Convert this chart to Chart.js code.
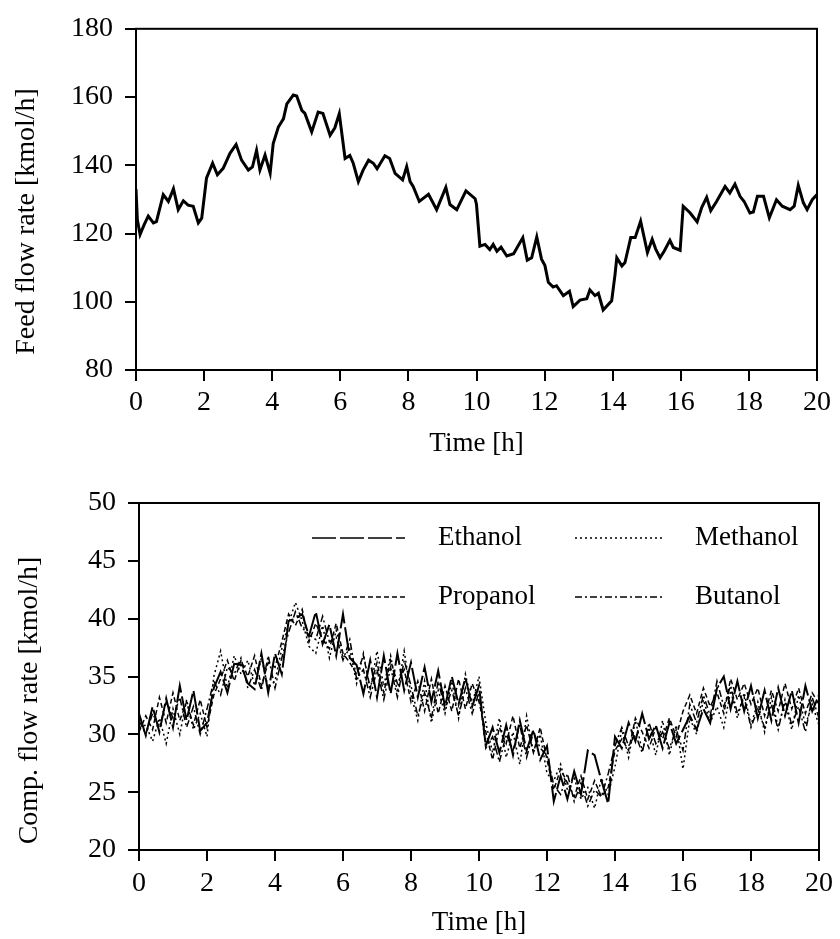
<!DOCTYPE html>
<html>
<head>
<meta charset="utf-8">
<title>Feed and component flow rates</title>
<script src="https://cdn.jsdelivr.net/npm/chart.js@4.4.1/dist/chart.umd.min.js"></script>
<style>
    html, body { margin: 0; padding: 0; background: #fff; }
    #wrap { position: relative; width: 840px; height: 939px; }
    canvas { position: absolute; left: 0; }
    #feedChart { top: 0; }
    #compChart { top: 470px; }
</style>
</head>
<body>
<div id="wrap">
    <canvas id="feedChart" width="840" height="470"></canvas>
    <canvas id="compChart" width="840" height="469"></canvas>
</div>
<script>
// --- DATA ---
// Feed flow rate [kmol/h] over time [h]
const feedTimes = [
    0, 0.04, 0.12, 0.24, 0.36, 0.51, 0.6, 0.8, 0.95, 1.1,
    1.24, 1.39, 1.53, 1.68, 1.83, 1.93, 2.07, 2.25, 2.39, 2.56,
    2.76, 2.94, 3.1, 3.3, 3.42, 3.54, 3.64, 3.79, 3.94, 4.03,
    4.18, 4.33, 4.43, 4.62, 4.72, 4.87, 4.96, 5.16, 5.35, 5.49,
    5.7, 5.84, 5.97, 6.14, 6.28, 6.38, 6.53, 6.67, 6.83, 6.97,
    7.08, 7.31, 7.45, 7.61, 7.83, 7.95, 8.05, 8.14, 8.32, 8.59,
    8.83, 9.1, 9.22, 9.42, 9.69, 9.96, 10.0, 10.1, 10.25, 10.39,
    10.49, 10.6, 10.72, 10.89, 11.09, 11.36, 11.49, 11.62, 11.77, 11.91,
    12.01, 12.11, 12.25, 12.35, 12.55, 12.73, 12.84, 13.04, 13.24, 13.33,
    13.48, 13.58, 13.72, 13.97, 14.07, 14.12, 14.27, 14.36, 14.53, 14.66,
    14.82, 15.02, 15.16, 15.26, 15.39, 15.51, 15.68, 15.78, 15.98, 16.07,
    16.27, 16.48, 16.61, 16.76, 16.88, 17.05, 17.3, 17.44, 17.59, 17.74,
    17.86, 18.03, 18.13, 18.25, 18.43, 18.6, 18.81, 18.98, 19.21, 19.33,
    19.45, 19.6, 19.71, 19.86, 20.0
];
const feedRate = [
    133, 124, 119.7, 122.6, 125.1, 123.1, 123.5, 131.4, 129.4, 133.1,
    127, 129.6, 128.3, 128, 123.1, 124.5, 136.2, 140.6, 137.2, 139.1,
    143.5, 146.1, 141.5, 138.6, 139.5, 144.4, 138.6, 143, 137.7, 146.4,
    151.2, 153.6, 158, 160.6, 160.3, 156.1, 155.2, 149.8, 155.6, 155.2,
    148.8, 151, 155.1, 142, 142.9, 140.6, 135.2, 138.6, 141.5, 140.6,
    139, 142.8, 142, 137.6, 135.7, 139.6, 135.2, 133.8, 129.4, 131.5,
    127, 133.5, 128.5, 127, 132.5, 130.2, 128.5, 116.3, 116.8, 115.3,
    116.8, 114.8, 116, 113.4, 114.1, 118.8, 112.2, 112.9, 119, 112.5,
    110.6, 105.7, 104.3, 104.7, 101.8, 103.1, 98.6, 100.5, 100.9, 103.5,
    101.8, 102.5, 97.6, 100.3, 108.1, 112.9, 110.5, 111.5, 118.8, 118.8,
    123.6, 114.4, 118.3, 115.5, 112.9, 114.8, 118, 115.9, 115.1, 128,
    126.1, 123.4, 127.5, 130.6, 126.7, 129.4, 133.8, 131.9, 134.5, 130.9,
    129.4, 126, 126.3, 130.9, 130.9, 124.6, 129.9, 128, 127, 128,
    134.1, 129, 127, 129.9, 131.4
];

// Component flow rates [kmol/h], sampled every 0.2 h
const compTimes = [
    0, 0.2, 0.4, 0.6, 0.8, 1.0, 1.2, 1.4, 1.6, 1.8,
    2.0, 2.2, 2.4, 2.6, 2.8, 3.0, 3.2, 3.4, 3.6, 3.8,
    4.0, 4.2, 4.4, 4.6, 4.8, 5.0, 5.2, 5.4, 5.6, 5.8,
    6.0, 6.2, 6.4, 6.6, 6.8, 7.0, 7.2, 7.4, 7.6, 7.8,
    8.0, 8.2, 8.4, 8.6, 8.8, 9.0, 9.2, 9.4, 9.6, 9.8,
    10.0, 10.2, 10.4, 10.6, 10.8, 11.0, 11.2, 11.4, 11.6, 11.8,
    12.0, 12.2, 12.4, 12.6, 12.8, 13.0, 13.2, 13.4, 13.6, 13.8,
    14.0, 14.2, 14.4, 14.6, 14.8, 15.0, 15.2, 15.4, 15.6, 15.8,
    16.0, 16.2, 16.4, 16.6, 16.8, 17.0, 17.2, 17.4, 17.6, 17.8,
    18.0, 18.2, 18.4, 18.6, 18.8, 19.0, 19.2, 19.4, 19.6, 19.8,
    20.0
];
const ethanol = [
    31.8, 29.9, 32.4, 30.2, 33.1, 30.6, 34.2, 31.2, 33.8, 30.3,
    31.0, 34.0, 35.4, 33.6, 36.1, 36.0, 34.4, 33.9, 37.0, 33.6,
    37.0, 35.2, 39.8, 40.0, 40.4, 38.5, 40.6, 37.8, 39.5, 36.8,
    40.4, 36.6, 36.0, 33.5, 36.4, 33.2, 36.8, 33.5, 37.0, 33.8,
    36.2, 33.2, 35.8, 32.8, 35.5, 32.4, 35.0, 32.6, 34.9, 32.4,
    34.2, 29.0, 30.6, 28.4, 30.8, 28.2, 31.2, 28.6, 30.4, 27.8,
    29.0, 24.2, 26.4, 24.4, 26.8, 24.8, 28.6, 28.2, 26.0, 24.0,
    29.8, 28.8, 31.0, 29.4, 31.8, 29.6, 30.8, 28.8, 31.0, 29.2,
    30.4, 31.6, 30.4, 32.2, 31.0, 34.0, 35.0, 32.2, 34.6, 32.0,
    34.2, 31.4, 33.8, 31.2, 34.0, 31.6, 33.8, 31.0, 34.2, 32.0,
    33.4
];
const methanol = [
    30.6, 30.8, 29.4, 31.4, 29.2, 32.2, 30.0, 33.0, 30.4, 31.8,
    29.8, 35.0, 37.2, 34.0, 36.8, 35.2, 36.4, 34.2, 36.6, 34.0,
    34.6, 37.4, 39.6, 41.4, 39.8, 37.6, 37.0, 39.4, 36.6, 39.0,
    36.6, 37.4, 34.4, 37.0, 33.8, 37.2, 34.2, 36.8, 33.6, 37.2,
    33.4, 31.2, 34.6, 31.0, 33.8, 31.8, 34.6, 31.4, 35.2, 32.6,
    35.0, 31.0, 28.4, 31.4, 28.0, 30.2, 27.4, 31.6, 28.4, 30.0,
    26.6, 26.0, 27.4, 25.2, 26.2, 24.4, 25.4, 23.6, 26.2, 24.8,
    27.2, 30.4, 28.0, 31.2, 28.6, 30.6, 28.2, 31.2, 28.2, 30.8,
    27.0, 31.4, 30.0, 33.0, 31.0, 32.4, 30.6, 33.8, 31.4, 33.6,
    30.8, 32.8, 30.2, 33.2, 30.6, 32.8, 30.4, 33.4, 30.8, 32.6,
    30.8
];
const propanol = [
    30.2, 31.6, 30.4, 33.2, 31.0, 33.6, 31.2, 32.8, 30.8, 33.0,
    30.6, 33.4, 34.8, 36.4, 34.6, 36.4, 35.0, 36.8, 34.2, 36.2,
    35.8, 38.0, 40.4, 39.4, 40.8, 38.0, 39.6, 38.2, 37.4, 39.6,
    37.0, 36.2, 35.2, 36.8, 34.0, 36.2, 33.6, 36.4, 34.4, 35.6,
    32.8, 34.6, 32.0, 34.8, 31.8, 34.2, 32.0, 34.8, 32.2, 34.4,
    32.8, 30.2, 27.8, 30.6, 29.2, 31.6, 28.8, 30.8, 28.4, 30.6,
    27.8, 25.2, 27.0, 25.8, 24.6, 26.4, 24.4, 26.0, 24.6, 25.4,
    28.6, 29.6, 28.6, 31.4, 30.2, 28.8, 30.6, 29.6, 31.4, 29.8,
    32.0, 33.4, 31.8, 34.0, 32.4, 33.6, 31.8, 34.8, 33.0, 34.4,
    32.6, 34.0, 31.6, 33.8, 32.0, 34.4, 32.2, 34.0, 31.8, 33.6,
    32.6
];
const butanol = [
    31.2, 30.0, 31.8, 30.6, 32.8, 31.4, 33.2, 30.6, 32.4, 30.0,
    32.2, 34.6, 33.4, 35.8, 35.2, 36.6, 34.0, 35.6, 33.8, 36.8,
    34.0, 36.6, 38.8, 40.6, 39.2, 38.6, 38.2, 40.2, 38.0, 38.4,
    36.4, 38.2, 34.8, 35.6, 33.2, 35.6, 33.0, 35.8, 33.2, 36.4,
    34.2, 31.6, 33.6, 31.4, 34.6, 32.2, 33.8, 31.6, 34.0, 31.8,
    33.6, 28.8, 29.8, 27.6, 30.0, 28.6, 30.8, 28.0, 30.2, 28.8,
    28.2, 25.6, 24.8, 26.6, 24.2, 25.8, 23.8, 25.2, 24.6, 26.6,
    29.0, 30.6, 29.0, 30.0, 28.4, 31.0, 29.2, 30.2, 28.8, 30.4,
    28.6, 32.6, 31.0, 33.4, 31.6, 34.6, 32.4, 34.2, 31.8, 33.2,
    30.6, 32.2, 30.6, 32.6, 30.4, 33.0, 30.8, 32.4, 30.2, 33.2,
    31.4
];

// Axis ticks
const timeTicks = [0, 2, 4, 6, 8, 10, 12, 14, 16, 18, 20];
const feedTicks = [80, 100, 120, 140, 160, 180];
const compTicks = [20, 25, 30, 35, 40, 45, 50];

// --- SHARED STYLE ---
const SERIF = "'Liberation Serif', 'DejaVu Serif', serif";
Chart.defaults.font.family = SERIF;
Chart.defaults.color = '#000';

const toPoints = (xs, ys) => xs.map((x, i) => ({ x: x, y: ys[i] }));
const fixedTicks = list => scale => { scale.ticks = list.map(v => ({ value: v })); };

// full box around the plot area
const framePlugin = {
    id: 'frame',
    afterDatasetsDraw(chart) {
        const { ctx, chartArea: a } = chart;
        ctx.save();
        ctx.strokeStyle = '#000';
        ctx.lineWidth = 2;
        ctx.strokeRect(a.left, a.top, a.right - a.left, a.bottom - a.top);
        ctx.restore();
    }
};

// rotated y-axis title, drawn a little below the middle of the plot
const sideTitle = (text, cx, shift) => ({
    id: 'sideTitle',
    afterDraw(chart) {
        const { ctx, chartArea: a } = chart;
        ctx.save();
        ctx.font = '28px ' + SERIF;
        ctx.fillStyle = '#000';
        ctx.textAlign = 'center';
        ctx.textBaseline = 'middle';
        ctx.translate(cx, (a.top + a.bottom) / 2 + shift);
        ctx.rotate(-Math.PI / 2);
        ctx.fillText(text, 0, 0);
        ctx.restore();
    }
});

function axisOptions(ticks, min, max) {
    return {
        type: 'linear',
        min: min,
        max: max,
        afterBuildTicks: fixedTicks(ticks),
        grid: { display: true, drawOnChartArea: false, drawTicks: true, tickLength: 11, color: '#000', lineWidth: 2 },
        border: { display: false },
        ticks: { font: { size: 28 }, color: '#000', autoSkip: false, maxRotation: 0 }
    };
}

// --- FEED FLOW CHART ---
const feedX = axisOptions(timeTicks, 0, 20);
feedX.ticks.padding = 5;
feedX.title = { display: true, text: 'Time [h]', font: { size: 27 }, color: '#000', padding: { top: 0, bottom: 10 } };
feedX.afterFit = s => { s.height = 100; };
const feedY = axisOptions(feedTicks, 80, 180);
feedY.ticks.padding = 12;
feedY.afterFit = s => { s.width = 136; };

new Chart(document.getElementById('feedChart'), {
    type: 'line',
    data: {
        datasets: [{
            label: 'Feed',
            data: toPoints(feedTimes, feedRate),
            borderColor: '#000',
            borderWidth: 3,
            pointRadius: 0,
            tension: 0
        }]
    },
    options: {
        responsive: false,
        animation: false,
        layout: { padding: { left: 0, right: 23, top: 26, bottom: 0 } },
        plugins: { legend: { display: false }, tooltip: { enabled: false } },
        scales: { x: feedX, y: feedY }
    },
    plugins: [framePlugin, sideTitle('Feed flow rate [kmol/h]', 27, 22)]
});

// --- COMPONENT FLOW CHART ---
// legend sits inside the plot: two rows, two columns (line sample then name)
const insideLegend = {
    id: 'insideLegend',
    afterDraw(chart) {
        const { ctx, chartArea: a } = chart;
        const cols = [{ x0: 173, x1: 266, tx: 299 }, { x0: 436, x1: 524, tx: 556 }];
        const rows = [35, 94];
        ctx.save();
        ctx.font = '27px ' + SERIF;
        ctx.fillStyle = '#000';
        ctx.textBaseline = 'middle';
        chart.data.datasets.forEach((ds, i) => {
            const c = cols[i % 2];
            const y = a.top + rows[Math.floor(i / 2)];
            ctx.strokeStyle = '#000';
            ctx.lineWidth = 1.6;
            ctx.setLineDash(ds.borderDash || []);
            ctx.beginPath();
            ctx.moveTo(a.left + c.x0, y);
            ctx.lineTo(a.left + c.x1, y);
            ctx.stroke();
            ctx.setLineDash([]);
            ctx.fillText(ds.label, a.left + c.tx, y);
        });
        ctx.restore();
    }
};

const compX = axisOptions(timeTicks, 0, 20);
compX.ticks.padding = 6;
compX.title = { display: true, text: 'Time [h]', font: { size: 27 }, color: '#000', padding: { top: 0, bottom: 0 } };
compX.afterFit = s => { s.height = 89; };
const compY = axisOptions(compTicks, 20, 50);
compY.ticks.padding = 12;
compY.afterFit = s => { s.width = 139; };

const compLine = (label, values, dash, width) => ({
    label: label,
    data: toPoints(compTimes, values),
    borderColor: '#000',
    borderWidth: width,
    borderDash: dash,
    pointRadius: 0,
    tension: 0
});

new Chart(document.getElementById('compChart'), {
    type: 'line',
    data: {
        datasets: [
            compLine('Ethanol', ethanol, [24, 4], 2),
            compLine('Methanol', methanol, [2, 3], 1.5),
            compLine('Propanol', propanol, [5, 3], 1.5),
            compLine('Butanol', butanol, [7, 3, 2, 3], 1.5)
        ]
    },
    options: {
        responsive: false,
        animation: false,
        layout: { padding: { left: 0, right: 21, top: 33, bottom: 0 } },
        plugins: { legend: { display: false }, tooltip: { enabled: false } },
        scales: { x: compX, y: compY }
    },
    plugins: [framePlugin, insideLegend, sideTitle('Comp. flow rate [kmol/h]', 30, 24)]
});
</script>
</body>
</html>
